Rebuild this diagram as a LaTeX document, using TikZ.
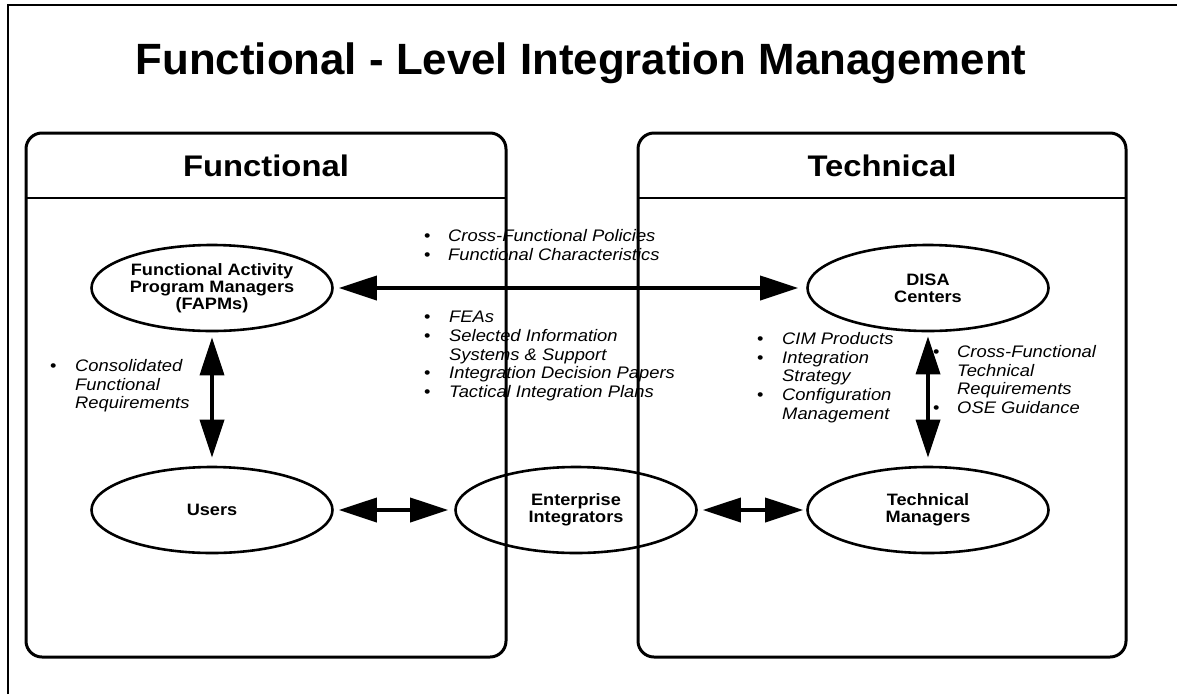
\documentclass[tikz,border=0pt]{standalone}
\usepackage{fontspec}
\setmainfont{Liberation Sans}
\newfontfamily\wide{Liberation Sans}[FakeStretch=1.1]
\usetikzlibrary{arrows.meta,shapes.geometric}
\newcommand\bul[1]{\makebox[#1pt][l]{\upshape\textbullet}}
\begin{document}
\begin{tikzpicture}[x=1pt,y=-1pt,
  ell/.style={ellipse,draw,line width=2.6pt,minimum width=241pt,minimum height=86pt,inner sep=0pt,align=center,font=\wide\bfseries\fontsize{16.5}{17}\selectfont},
  panel/.style={draw,line width=3pt,rounded corners=16pt},
  sep/.style={line width=2.6pt},
  lbl/.style={anchor=north west,align=left,inner sep=0pt,font=\wide\itshape\fontsize{16.7}{18.7}\selectfont},
  dbl/.style={line width=3.6pt,{Triangle[length=38pt,width=24pt]}-{Triangle[length=38pt,width=24pt]}},
  hdr/.style={font=\wide\bfseries\fontsize{29.8}{32}\selectfont},
  ttl/.style={font=\bfseries\fontsize{43.8}{46}\selectfont,anchor=base}
]
\useasboundingbox (0,0) rectangle (1177,694);
% outer frame
\draw[line width=2pt] (8,694) -- (8,5) -- (1177,5);
% title
\node[ttl] (title) at (581,74) {Functional - Level Integration Management};
% panels
\draw[panel] (26,133) rectangle (506,657);
\draw[sep] (26,198) -- (506,198);
\draw[panel] (638,133) rectangle (1126,657);
\draw[sep] (638,198) -- (1126,198);
\node[hdr] (hfun) at (266,166) {Functional};
\node[hdr] (htec) at (882,166) {Technical};
% ellipses
\node[ell] (fapm) at (212,288) {Functional Activity\\Program Managers\\(FAPMs)};
\node[ell] (disa) at (928,288) {DISA\\Centers};
\node[ell] (users) at (212,510) {Users};
\node[ell] (ent) at (576,510) {Enterprise\\Integrators};
\node[ell] (tman) at (928,510) {Technical\\Managers};
% arrows
\draw[dbl,shorten <=5pt,shorten >=8pt] (fapm) -- (disa);
\draw[dbl,shorten <=5pt,shorten >=8pt] (fapm) -- (users);
\draw[dbl,shorten <=4pt,shorten >=8pt] (disa) -- (tman);
\draw[dbl,shorten <=5pt,shorten >=6pt] (users) -- (ent);
\draw[dbl,shorten <=5pt,shorten >=3pt] (ent) -- (tman);
% labels
\node[lbl] (l1) at (424,229) {\bul{24}Cross-Functional Policies\\\bul{24}Functional Characteristics};
\node[lbl] (l2) at (424,311) {\bul{25}FEAs\\\bul{25}Selected Information\\\hspace*{25pt}Systems \& Support\\\bul{25}Integration Decision Papers\\\bul{25}Tactical Integration Plans};
\node[lbl] (l3) at (757,332) {\bul{25}CIM Products\\\bul{25}Integration\\\hspace*{25pt}Strategy\\\bul{25}Configuration\\\hspace*{25pt}Management};
\node[lbl] (l4) at (933,345) {\bul{24}Cross-Functional\\\hspace*{24pt}Technical\\\hspace*{24pt}Requirements\\\bul{24}OSE Guidance};
\node[lbl] (l5) at (50,359) {\bul{25}Consolidated\\\hspace*{25pt}Functional\\\hspace*{25pt}Requirements};
\end{tikzpicture}
\end{document}
